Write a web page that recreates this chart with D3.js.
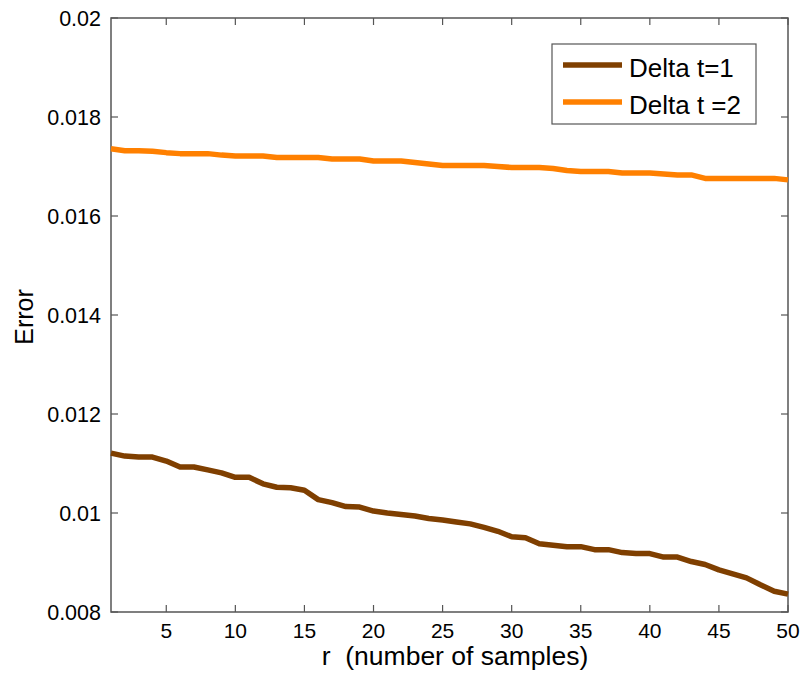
<!DOCTYPE html>
<html>
<head>
<meta charset="utf-8">
<script src="https://cdn.jsdelivr.net/npm/d3@7"></script>
<style>
  body { margin: 0; background: #fff; }
  svg text { font-family: "Liberation Sans", Arial, sans-serif; }
</style>
</head>
<body>
<svg id="chart" width="811" height="674"></svg>
<script>
// r values 1..50
var samples = d3.range(1, 51);

var delta1 = [0.01121, 0.01115, 0.01113, 0.01113, 0.01105, 0.01093, 0.01093, 0.01087, 0.01081, 0.01072,
              0.01072, 0.01059, 0.01052, 0.01051, 0.01046, 0.01027, 0.01021, 0.01013, 0.01012, 0.01004,
              0.01000, 0.00997, 0.00994, 0.00989, 0.00986, 0.00982, 0.00978, 0.00971, 0.00963, 0.00952,
              0.00950, 0.00938, 0.00935, 0.00932, 0.00932, 0.00926, 0.00926, 0.00920, 0.00918, 0.00918,
              0.00911, 0.00911, 0.00902, 0.00896, 0.00885, 0.00877, 0.00869, 0.00855, 0.00842, 0.00836];

var delta2 = [0.01736, 0.01732, 0.01732, 0.01731, 0.01728, 0.01726, 0.01726, 0.01726, 0.01723, 0.01721,
              0.01721, 0.01721, 0.01718, 0.01718, 0.01718, 0.01718, 0.01715, 0.01715, 0.01715, 0.01711,
              0.01711, 0.01711, 0.01708, 0.01705, 0.01702, 0.01702, 0.01702, 0.01702, 0.01700, 0.01698,
              0.01698, 0.01698, 0.01696, 0.01692, 0.01690, 0.01690, 0.01690, 0.01687, 0.01687, 0.01687,
              0.01685, 0.01683, 0.01683, 0.01676, 0.01676, 0.01676, 0.01676, 0.01676, 0.01676, 0.01673];

var seriesNames = ["Delta t=1", "Delta t =2"];
var xTicks = [5, 10, 15, 20, 25, 30, 35, 40, 45, 50];
var yTicks = [0.008, 0.01, 0.012, 0.014, 0.016, 0.018, 0.02];
var yTickLabels = ["0.008", "0.01", "0.012", "0.014", "0.016", "0.018", "0.02"];

var colors = ["#7f3f00", "#ff8000"];

var plotL = 111, plotR = 788, plotT = 18, plotB = 612;
var svg = d3.select("#chart");

var x = d3.scaleLinear().domain([1, 50]).range([plotL, plotR]);
var y = d3.scaleLinear().domain([0.008, 0.02]).range([plotB, plotT]);

var axisColor = "#555";
var tickLen = 7;

// box
svg.append("rect")
  .attr("x", plotL).attr("y", plotT)
  .attr("width", plotR - plotL).attr("height", plotB - plotT)
  .attr("fill", "none").attr("stroke", axisColor).attr("stroke-width", 1.5);

// ticks on all four sides, pointing inward
var g = svg.append("g");
xTicks.forEach(function(t) {
  g.append("line").attr("x1", x(t)).attr("x2", x(t)).attr("y1", plotB).attr("y2", plotB - tickLen)
    .attr("stroke", axisColor).attr("stroke-width", 1.2);
  g.append("line").attr("x1", x(t)).attr("x2", x(t)).attr("y1", plotT).attr("y2", plotT + tickLen)
    .attr("stroke", axisColor).attr("stroke-width", 1.2);
  svg.append("text").attr("x", x(t)).attr("y", 638)
    .attr("text-anchor", "middle").attr("font-size", 21).text(t);
});
yTicks.forEach(function(t, i) {
  g.append("line").attr("x1", plotL).attr("x2", plotL + tickLen).attr("y1", y(t)).attr("y2", y(t))
    .attr("stroke", axisColor).attr("stroke-width", 1.2);
  g.append("line").attr("x1", plotR).attr("x2", plotR - tickLen).attr("y1", y(t)).attr("y2", y(t))
    .attr("stroke", axisColor).attr("stroke-width", 1.2);
  svg.append("text").attr("x", plotL - 10).attr("y", y(t) + 7.5)
    .attr("text-anchor", "end").attr("font-size", 21.5).text(yTickLabels[i]);
});

// lines
var line = d3.line()
  .x(function(d, i) { return x(samples[i]); })
  .y(function(d) { return y(d); });

[delta1, delta2].forEach(function(data, i) {
  svg.append("path")
    .datum(data)
    .attr("d", line)
    .attr("fill", "none")
    .attr("stroke", colors[i])
    .attr("stroke-width", 5.5)
    .attr("stroke-linejoin", "round");
});

// axis labels
svg.append("text").attr("x", 455).attr("y", 665)
  .attr("text-anchor", "middle").attr("font-size", 26.5)
  .attr("xml:space", "preserve")
  .text("r  (number of samples)");
svg.append("text")
  .attr("transform", "translate(33," + ((plotT + plotB) / 2 + 2) + ") rotate(-90)")
  .attr("text-anchor", "middle").attr("font-size", 25).text("Error");

// legend
var lg = svg.append("g");
lg.append("rect").attr("x", 552).attr("y", 44).attr("width", 204).attr("height", 80)
  .attr("fill", "#fff").attr("stroke", axisColor).attr("stroke-width", 1.2);
seriesNames.forEach(function(name, i) {
  var ly = 65 + i * 37;
  lg.append("line").attr("x1", 563).attr("x2", 622).attr("y1", ly).attr("y2", ly)
    .attr("stroke", colors[i]).attr("stroke-width", 5.5);
  lg.append("text").attr("x", 629).attr("y", ly + 11.5).attr("font-size", 26).text(name);
});
</script>
</body>
</html>
